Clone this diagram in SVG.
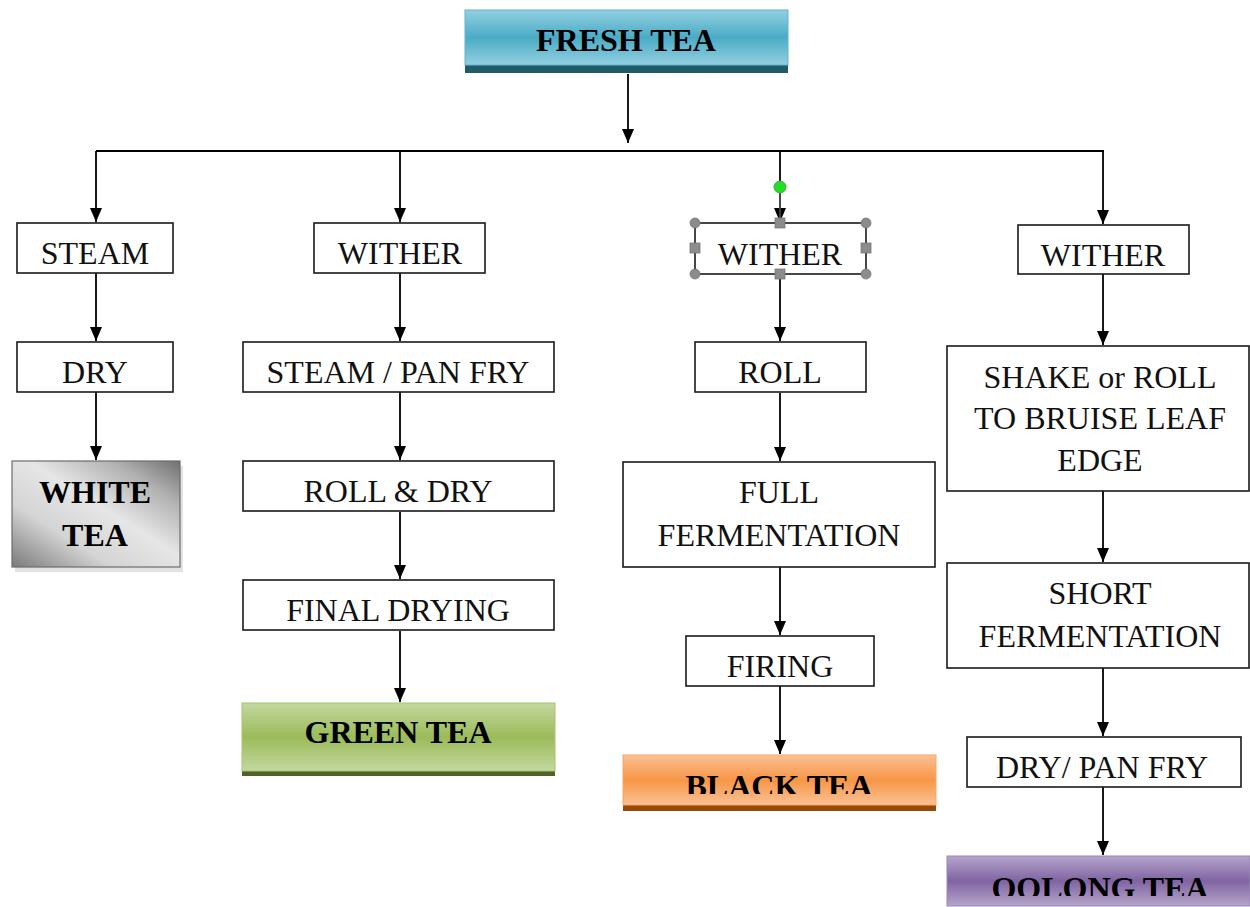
<svg xmlns="http://www.w3.org/2000/svg" width="1250" height="907" viewBox="0 0 1250 907">
<style>
.box{fill:#fff;stroke:#1a1a1a;stroke-width:1.6}
.t{font-family:"Liberation Serif","Times New Roman",serif;font-size:32px;fill:#111;text-anchor:middle}
.b{font-family:"Liberation Serif","Times New Roman",serif;font-size:32px;font-weight:bold;fill:#000;text-anchor:middle}
.c{fill:none;stroke:#000;stroke-width:1.8}
.h{fill:#8c8c8c;stroke:#777;stroke-width:0.8}
</style>
<defs>
<marker id="ah" viewBox="0 0 14 12" refX="14" refY="6" markerWidth="14" markerHeight="12" markerUnits="userSpaceOnUse" orient="auto">
<path d="M0,0 L14,6 L0,12 Z" fill="#000"/>
</marker>
<linearGradient id="gBlue" x1="0" y1="0" x2="0" y2="1">
<stop offset="0" stop-color="#93d0e1"/><stop offset="0.5" stop-color="#4aabc6"/><stop offset="1" stop-color="#93d0e1"/>
</linearGradient>
<linearGradient id="gGreen" x1="0" y1="0" x2="0" y2="1">
<stop offset="0" stop-color="#c4d8a0"/><stop offset="0.5" stop-color="#9bbb59"/><stop offset="1" stop-color="#c4d8a0"/>
</linearGradient>
<linearGradient id="gOrange" x1="0" y1="0" x2="0" y2="1">
<stop offset="0" stop-color="#fbc195"/><stop offset="0.5" stop-color="#f79646"/><stop offset="1" stop-color="#fbc195"/>
</linearGradient>
<linearGradient id="gPurple" x1="0" y1="0" x2="0" y2="1">
<stop offset="0" stop-color="#b6a5cb"/><stop offset="0.5" stop-color="#8064a2"/><stop offset="1" stop-color="#b6a5cb"/>
</linearGradient>
<linearGradient id="gGray" x1="0" y1="1" x2="1" y2="0">
<stop offset="0" stop-color="#7a7a7a"/><stop offset="0.3" stop-color="#d4d4d4"/><stop offset="0.55" stop-color="#e6e6e6"/><stop offset="0.8" stop-color="#b0b0b0"/><stop offset="1" stop-color="#707070"/>
</linearGradient>
<clipPath id="clipBlack"><rect x="623" y="755" width="313" height="39"/></clipPath>
<clipPath id="clipOolong"><rect x="947" y="856" width="303" height="40"/></clipPath>
</defs>

<g id="connectors">
<path class="c" d="M628,74 V143" marker-end="url(#ah)"/>
<path class="c" d="M96,151 H1104"/>
<path class="c" d="M96,151 V222" marker-end="url(#ah)"/>
<path class="c" d="M400,151 V222" marker-end="url(#ah)"/>
<path class="c" d="M780,151 V222" marker-end="url(#ah)"/>
<path class="c" d="M1103,151 V224" marker-end="url(#ah)"/>
<path class="c" d="M96,273 V341" marker-end="url(#ah)"/>
<path class="c" d="M96,392 V460" marker-end="url(#ah)"/>
<path class="c" d="M400,273 V341" marker-end="url(#ah)"/>
<path class="c" d="M400,392 V460" marker-end="url(#ah)"/>
<path class="c" d="M400,512 V579" marker-end="url(#ah)"/>
<path class="c" d="M400,631 V702" marker-end="url(#ah)"/>
<path class="c" d="M780,274 V341" marker-end="url(#ah)"/>
<path class="c" d="M780,393 V461" marker-end="url(#ah)"/>
<path class="c" d="M780,567 V635" marker-end="url(#ah)"/>
<path class="c" d="M780,686 V754" marker-end="url(#ah)"/>
<path class="c" d="M1103,274 V345" marker-end="url(#ah)"/>
<path class="c" d="M1103,491 V562" marker-end="url(#ah)"/>
<path class="c" d="M1103,668 V736" marker-end="url(#ah)"/>
<path class="c" d="M1103,787 V855" marker-end="url(#ah)"/>
</g>

<g id="fresh-tea">
<rect x="465" y="64" width="323" height="9" fill="#215b69"/>
<rect x="465" y="10" width="323" height="55" fill="url(#gBlue)" stroke="#5fb4cc" stroke-width="1"/>
<text class="b" x="626" y="51">FRESH TEA</text>
</g>

<g id="steam">
<rect class="box" x="17" y="223" width="156" height="50"/>
<text class="t" x="95" y="264">STEAM</text>
</g>
<g id="dry">
<rect class="box" x="17" y="342" width="156" height="50"/>
<text class="t" x="95" y="383">DRY</text>
</g>
<g id="white-tea">
<rect x="15" y="466" width="168" height="106" fill="#cfcfcf" opacity="0.6"/>
<rect x="12" y="461" width="168" height="106" fill="url(#gGray)" stroke="#6d6d6d" stroke-width="1.2"/>
<text class="b" x="95" y="503">WHITE</text>
<text class="b" x="95" y="546">TEA</text>
</g>

<g id="wither-1">
<rect class="box" x="314" y="223" width="171" height="50"/>
<text class="t" x="400" y="264">WITHER</text>
</g>
<g id="steam-pan-fry">
<rect class="box" x="243" y="342" width="311" height="50"/>
<text class="t" x="398" y="383">STEAM / PAN FRY</text>
</g>
<g id="roll-dry">
<rect class="box" x="243" y="461" width="311" height="50"/>
<text class="t" x="398" y="502">ROLL &amp; DRY</text>
</g>
<g id="final-drying">
<rect class="box" x="243" y="580" width="311" height="50"/>
<text class="t" x="398" y="621">FINAL DRYING</text>
</g>
<g id="green-tea">
<rect x="242" y="770" width="313" height="6" fill="#4f6228"/>
<rect x="242" y="703" width="313" height="68" fill="url(#gGreen)" stroke="#a9c46e" stroke-width="1"/>
<text class="b" x="398" y="743">GREEN TEA</text>
</g>

<g id="wither-2">
<rect class="box" x="695" y="223" width="171" height="51"/>
<text class="t" x="780" y="265">WITHER</text>
<g id="selection-handles">
<line x1="780" y1="187" x2="780" y2="223" stroke="#777" stroke-width="1"/>
<circle cx="780" cy="187" r="6" fill="#22dd22" stroke="#44aa44" stroke-width="1"/>
<circle class="h" cx="695" cy="223" r="5"/>
<circle class="h" cx="866" cy="223" r="5"/>
<circle class="h" cx="695" cy="274" r="5"/>
<circle class="h" cx="866" cy="274" r="5"/>
<rect class="h" x="775" y="218" width="10" height="10"/>
<rect class="h" x="775" y="269" width="10" height="10"/>
<rect class="h" x="690" y="243" width="10" height="10"/>
<rect class="h" x="861" y="243" width="10" height="10"/>
</g>
</g>
<g id="roll">
<rect class="box" x="695" y="342" width="171" height="50"/>
<text class="t" x="780" y="383">ROLL</text>
</g>
<g id="full-fermentation">
<rect class="box" x="623" y="462" width="312" height="105"/>
<text class="t" x="779" y="503">FULL</text>
<text class="t" x="779" y="546">FERMENTATION</text>
</g>
<g id="firing">
<rect class="box" x="686" y="636" width="188" height="50"/>
<text class="t" x="780" y="677">FIRING</text>
</g>
<g id="black-tea">
<rect x="623" y="804" width="313" height="7" fill="#984807"/>
<rect x="623" y="755" width="313" height="50" fill="url(#gOrange)" stroke="#f8a868" stroke-width="1"/>
<text class="b" x="779" y="797" clip-path="url(#clipBlack)">BLACK TEA</text>
</g>

<g id="wither-3">
<rect class="box" x="1018" y="225" width="171" height="49"/>
<text class="t" x="1103" y="266">WITHER</text>
</g>
<g id="shake-roll">
<rect class="box" x="947" y="346" width="302" height="145"/>
<text class="t" x="1100" y="388">SHAKE or ROLL</text>
<text class="t" x="1100" y="429">TO BRUISE LEAF</text>
<text class="t" x="1100" y="471">EDGE</text>
</g>
<g id="short-fermentation">
<rect class="box" x="947" y="563" width="302" height="105"/>
<text class="t" x="1100" y="604">SHORT</text>
<text class="t" x="1100" y="647">FERMENTATION</text>
</g>
<g id="dry-pan-fry">
<rect class="box" x="967" y="737" width="274" height="50"/>
<text class="t" x="1102" y="778">DRY/ PAN FRY</text>
</g>
<g id="oolong-tea">
<rect x="947" y="856" width="303" height="50" fill="url(#gPurple)" stroke="#9a86b6" stroke-width="1"/>
<text class="b" x="1100" y="899" clip-path="url(#clipOolong)">OOLONG TEA</text>
</g>
</svg>
